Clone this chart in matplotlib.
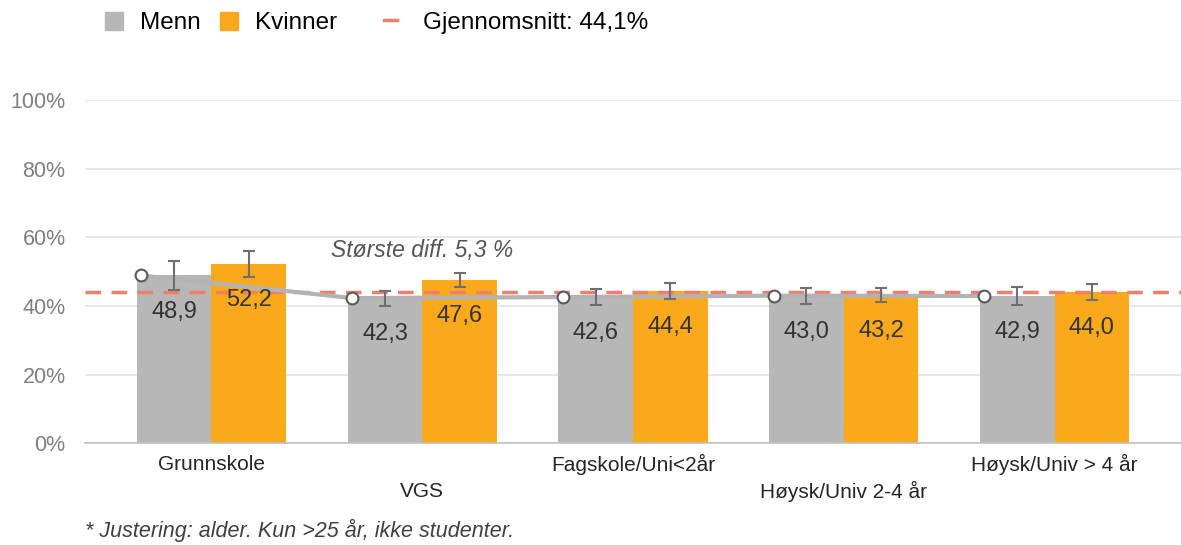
import numpy as np
import matplotlib.pyplot as plt
from matplotlib.patches import Patch
from matplotlib.lines import Line2D

# data
kategorier = ['Grunnskole', 'VGS', 'Fagskole/Uni<2år', 'Høysk/Univ 2-4 år', 'Høysk/Univ > 4 år']
menn = [48.9, 42.3, 42.6, 43.0, 42.9]
kvinner = [52.2, 47.6, 44.4, 43.2, 44.0]
menn_feil = [4.1, 2.2, 2.3, 2.3, 2.6]
kvinner_feil = [3.7, 2.1, 2.4, 2.0, 2.3]
snitt = 44.1
yticks = [0, 20, 40, 60, 80, 100]

farge_menn = '#b7b7b7'
farge_kv = '#f9a91b'
farge_snitt = '#f07f6a'

plt.rcParams['font.family'] = ['Liberation Sans', 'DejaVu Sans']

fig = plt.figure(figsize=(11.81, 5.45), dpi=100)
ax = fig.add_axes([0.072, 0.187, 0.928, 0.629])

x = np.arange(len(kategorier))
b = 0.354
ax.bar(x - b/2, menn, b, color=farge_menn, zorder=2)
ax.bar(x + b/2, kvinner, b, color=farge_kv, zorder=2)
ax.errorbar(x - b/2, menn, yerr=menn_feil, fmt='none', ecolor='#6f6f6f',
            elinewidth=1.5, capsize=4, capthick=1.5, zorder=5)
ax.errorbar(x + b/2, kvinner, yerr=kvinner_feil, fmt='none', ecolor='#6f6f6f',
            elinewidth=1.5, capsize=4, capthick=1.5, zorder=5)

ax.axhline(snitt, color=farge_snitt, lw=2.5, ls=(0, (4.5, 3)), zorder=3)
ax.plot(x - 0.333, menn, color='#b3b3b3', lw=3, marker='o', ms=8.5,
        mfc='white', mec='#5a5a5a', mew=1.5, zorder=4)

for i in range(len(x)):
    ax.annotate(f'{menn[i]:.1f}'.replace('.', ','), (x[i] - b/2, menn[i]),
                xytext=(0, -26), textcoords='offset points', ha='center', va='center',
                fontsize=17, color='#333333', zorder=6)
    ax.annotate(f'{kvinner[i]:.1f}'.replace('.', ','), (x[i] + b/2, kvinner[i]),
                xytext=(0, -26), textcoords='offset points', ha='center', va='center',
                fontsize=17, color='#333333', zorder=6)

ax.text(1, 56.3, 'Største diff. 5,3 %', ha='center', va='center', fontsize=16.5,
        style='italic', color='#555555', zorder=6)

ax.set_xlim(-0.6, 4.6)
ax.set_ylim(0, 100)
ax.set_yticks(yticks)
ax.set_yticklabels([f'{v}%' for v in yticks], fontsize=15.5, color='#7f7f7f')
ax.yaxis.grid(True, color='#e3e3e3', lw=1.2, zorder=0)
ax.set_axisbelow(True)
ax.tick_params(axis='y', length=0, pad=14)
ax.tick_params(axis='x', length=0)
ax.set_xticks(x)
ax.set_xticklabels([])
for s in ['top', 'right', 'left']:
    ax.spines[s].set_visible(False)
ax.spines['bottom'].set_color('#c0c0c0')
ax.spines['bottom'].set_linewidth(1.2)

for i, k in enumerate(kategorier):
    yy = -6.3 if i % 2 == 0 else -14.0
    ax.text(x[i], yy, k, ha='center', va='center', fontsize=15, color='#262626')

h1 = [Patch(color=farge_menn), Patch(color=farge_kv)]
fig.legend(h1, ['Menn', 'Kvinner'], loc='center left', bbox_to_anchor=(0.07, 0.958),
           ncol=2, frameon=False, fontsize=17.5, handlelength=0.75, handleheight=0.75,
           handletextpad=0.7, columnspacing=0.8)
h2 = [Line2D([], [], color=farge_snitt, lw=2.5)]
fig.legend(h2, ['Gjennomsnitt: 44,1%'], loc='center left', bbox_to_anchor=(0.307, 0.958),
           frameon=False, fontsize=17.5, handlelength=0.5, handletextpad=1.1)

fig.text(0.072, 0.026, '* Justering: alder. Kun >25 år, ikke studenter.', fontsize=15.5,
         style='italic', color='#404040', va='center')

fig.savefig('out.png', dpi=100)
